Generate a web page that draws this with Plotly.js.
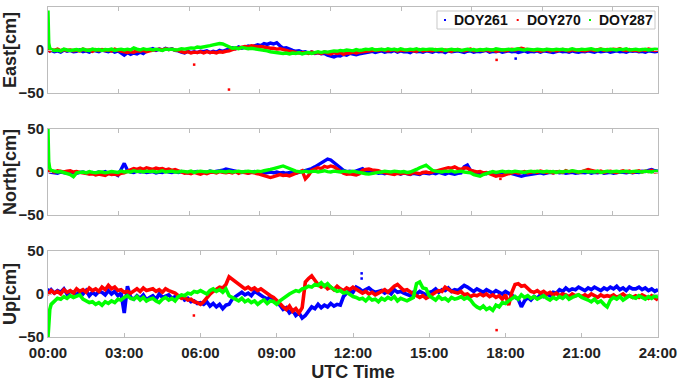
<!DOCTYPE html>
<html><head><meta charset="utf-8">
<script src="https://cdn.plot.ly/plotly-3.0.1.min.js"></script>
<style>html,body{margin:0;padding:0;background:#fff}#chart{width:680px;height:382px}</style>
</head><body><div id="chart"></div><script>
// epoch time in hours
const timeH = [0,0.03,0.07,
 0.125,0.25,0.375,0.5,0.625,0.75,0.875,1, 1.125,1.25,1.375,1.5,1.625,1.75,1.875,2,
 2.125,2.25,2.375,2.5,2.625,2.75,2.875,3, 3.125,3.25,3.375,3.5,3.625,3.75,3.875,4,
 4.125,4.25,4.375,4.5,4.625,4.75,4.875,5, 5.125,5.25,5.375,5.5,5.625,5.75,5.875,6,
 6.125,6.25,6.375,6.5,6.625,6.75,6.875,7, 7.125,7.25,7.375,7.5,7.625,7.75,7.875,8,
 8.125,8.25,8.375,8.5,8.625,8.75,8.875,9, 9.125,9.25,9.375,9.5,9.625,9.75,9.875,10,
 10.125,10.25,10.375,10.5,10.625,10.75,10.875,11, 11.125,11.25,11.375,11.5,11.625,11.75,11.875,12,
 12.125,12.25,12.375,12.5,12.625,12.75,12.875,13, 13.125,13.25,13.375,13.5,13.625,13.75,13.875,14,
 14.125,14.25,14.375,14.5,14.625,14.75,14.875,15, 15.125,15.25,15.375,15.5,15.625,15.75,15.875,16,
 16.125,16.25,16.375,16.5,16.625,16.75,16.875,17, 17.125,17.25,17.375,17.5,17.625,17.75,17.875,18,
 18.125,18.25,18.375,18.5,18.625,18.75,18.875,19, 19.125,19.25,19.375,19.5,19.625,19.75,19.875,20,
 20.125,20.25,20.375,20.5,20.625,20.75,20.875,21, 21.125,21.25,21.375,21.5,21.625,21.75,21.875,22,
 22.125,22.25,22.375,22.5,22.625,22.75,22.875,23, 23.125,23.25,23.375,23.5,23.625,23.75,23.875,24];

const seriesNames = ['DOY261','DOY270','DOY287'];
const seriesColors = ['#0000ff','#ff0000','#00ff00'];

// East [cm]
const eastDOY261 = [0,-1,-1,
 -0.5,-2,-1,-2.5,0,-1.5,-0.5,-2, -1.5,0,-2,-1,-2.5,-0.5,-1,-2,
 0,-1.5,-2,-0.5,-2.5,-1,-3,-6, -3,-5,-3.5,-4.5,-2.5,-4,-1,0.5,
 1.5,-0.5,1,0,2,0.5,1.5,-0.5, -1,-2.5,-3.5,-1.5,-3,-2,-3,-1.5,
 -2,-1,-3,-1.5,-2.5,-0.5,-1.5,0, 1,2.5,1.5,3.5,2,3,4.5,3.5,
 4.5,6,5,7.5,6.5,8,7,8.5, 5,2,2.5,0.5,-0.5,-1.5,-1,-2.5,
 -2,-3.5,-2.5,-4,-3,-4.5,-4,-6, -7,-8,-6.5,-7,-5,-6,-4,-5,
 -5.5,-4.5,-4,-3,-2.5,-1.5,-3,-2, -1,-2.5,-1.5,-2,-0.5,-2.5,-1,-2,
 -2,-3,-1,-2,-1.5,-2.5,-1,-1.5, -2.5,-1,-2,-1.5,-3,-1,-2,-1.5,
 -1,-2,-3,-1.5,-1,-2.5,-1.5,-2, -1.5,-0.5,-2.5,-1.5,-2,-1,-2.5,-2,
 -1,-2,-1.5,-3,-2,-1,-2.5,-1.5, -2,-1,-2.5,-1,-1.5,-2,-3,-2,
 -1,-2,-1.5,-2.5,-1,-2,-2.5,-1.5, -2,-1,-1.5,-2.5,-1,-2,-1.5,-1,
 -2.5,-1.5,-1,-2,-1.5,-2.5,-1,-1.5, -1,-2,-1.5,-2.5,-1,-1.5,-2,-1.5];
const eastDOY270 = [0,0,-1,
 0.5,-0.5,1,-1,0.5,-0.5,0,-1, 0,-1,1,-0.5,0,-1.5,0.5,-0.5,
 0.5,-0.5,0,-1,1,-0.5,-1,-2, -3,-2,-2.5,-1,-1.5,-0.5,-2,-1,
 -0.5,0.5,1,0,1.5,0.5,1,0, -0.5,-2,-3,-2,-3.5,-2.5,-3,-2,
 -3.5,-2,-3,-2.5,-3.5,-2,-2.5,-1.5, -1,0.5,1.5,2.5,3,4,3.5,5,
 4.5,3.5,4,3,2.5,2,2,1, 1.5,0,-0.5,-1.5,-2,-2.5,-3.5,-3,
 -3,-4,-2.5,-3.5,-3,-4,-2.5,-3.5, -4.5,-3,-4,-3,-5,-3.5,-3.5,-2.5,
 -3.5,-2.5,-2,-1.5,-1,-0.5,0,-0.5, 0.5,-0.5,-1,0,0.5,-1,0,-0.5,
 -0.5,0,-1,-1.5,0.5,-1,0,-0.5, -1,0.5,-0.5,-1,0,-0.5,-1.5,0,
 0.5,-0.5,-1,0,1,-1,-0.5,0, -0.5,0.5,-1,0,-1.5,-0.5,0,-1,
 0.5,1,0,1.5,2,1,0.5,0, -0.5,0,-1.5,-0.5,0.5,-1,0,-1,
 -0.5,0.5,0,-1,0.5,-0.5,0,-1, -1,0,0.5,-0.5,0,1,-0.5,0.5,
 0,1,0.5,1.5,0,-0.5,0.5,-0.5, 0,-1,0.5,-0.5,1,0,-0.5,0];
const eastDOY287 = [46,8,2,
 0.5,-0.5,0,-1,1,0,-0.5,0, 0.5,-0.5,1,0,-0.5,1,0,0.5,
 -0.5,0.5,0,1,-0.5,0.5,1,0, 1,0,2.5,1,0,1.5,0.5,1,
 0,1,0.5,-0.5,1,0.5,1,0, 0.5,1.5,1,2,2.5,2,3.5,3,
 3.5,4.5,5,6,6.5,7.5,7,5, 3,2,2.5,1.5,3,2,1.5,2,
 1.5,1,0.5,-0.5,-1,-2,-2.5,-3, -3,-4,-3.5,-4.5,-3.5,-4,-3,-4.5,
 -3.5,-3,-4,-2.5,-2,-3,-2,-2.5, -2,-1,-1.5,-0.5,-1,0,-0.5,-1,
 0.5,-0.5,0,1,0.5,1.5,0,0.5, 1,0,1.5,0.5,1,0,1.5,0.5,
 0,1,0.5,1.5,0,1,0.5,1, 1,0,0.5,1,-0.5,0.5,1,0,
 0.5,-0.5,0,1,0,0.5,-0.5,0.5, 0,1,0.5,0,1.5,0.5,0,0.5,
 1,0,0.5,1.5,0.5,0,1,0.5, 0,1,0.5,0,1,0.5,0,1,
 0.5,1,0,0.5,1.5,0.5,0,1, 0.5,1,1.5,0.5,0,1,0.5,0,
 1,0.5,0,1,0.5,1.5,0,0.5, 1,0,0.5,1,0,0.5,1,0.5];

// North [cm]
const northDOY261 = [1,0,0,
 -0.5,-1,-1.5,0,-0.5,-1.5,0,-1, -1.5,-0.5,0,-1,-2,-0.5,-1,0,
 -1,0.5,-1.5,0,-2,-4,3,10, 2,0,-0.5,1,0,0.5,-0.5,0,
 0.5,-1,0,-0.5,1,0,-0.5,0.5, -0.5,0.5,0,-1,-0.5,0,0.5,-0.5,
 0,-0.5,1,0,0.5,1.5,2,3.5, 2.5,1,0.5,0,-0.5,0.5,-1,0,
 0.5,-1,0,-1.5,-0.5,0,-1,0, -1,-0.5,-1.5,-1,0,-1.5,-0.5,0,
 1,2.5,4,6,8,10,12,15, 14,11,8,4,2,0.5,1,0,
 1,2,4,1,0,-1,0,-1.5, -1,-2,-0.5,-1.5,-2,-1,-2.5,-1,
 -2,-3,-1.5,-2.5,-3,-1,-1.5,-2, -1,-2,-0.5,-1.5,-2.5,-1,-2,-2.5,
 -1.5,-1,6,8,2,0,-1,-1.5, -1,-2,-0.5,-1.5,-2,-1,-0.5,-1.5,
 -1,-2,-3,-4,-5,-4,-3.5,-2.5, -2,-1.5,-1,-2,-1.5,-0.5,-1,0,
 -1,-0.5,-1.5,-1,-0.5,-1.5,-1,-0.5, -1,0,-1.5,-0.5,-1,0,-1.5,-1,
 -0.5,-1.5,-1,0,-0.5,-1,0,-1, 0,-0.5,1,0.5,2,3,1.5,1];
const northDOY270 = [2,1,0.5,
 1,0,1.5,0.5,0,1,1.5,0, 0.5,-0.5,-1,-2,-2.5,-2,-3.5,-2.5,
 -3.5,-4,-2,-3,-2.5,-3.5,-1.5,-1, 1,2.5,4,3,4.5,3,5,4,
 3,4.5,3.5,4,2.5,3.5,2,3, 1,0,-1.5,-1,-2,-0.5,-1.5,-2.5,
 -1,-2,-0.5,0,-1,0.5,-0.5,-1, 0,-1,0.5,-1.5,0,-0.5,-1.5,-0.5,
 -1,-2,-3,-4.5,-5,-6.5,-5.5,-4.5, -3,-4,-3.5,-4.5,-3,-2,0,1.5,
 -8,-4,2,3.5,5,4,6.5,5.5, 7,6,3,1,-1.5,-2.5,-2,-3,
 -3.5,-2,2,3,3.5,2.5,2,1.5, 0,-1,-2,-2.5,-3,-1.5,-2,-1,
 -1.5,-2.5,-0.5,-1.5,-2,-0.5,0,-1, 0,1,1.5,3,4,5,4.5,6,
 4,3,5,4.5,2,1,0,0.5, -1,-0.5,-2,-3.5,-5,-4,-4.5,-3,
 -2,-1,0,-1.5,-0.5,0.5,-1,0, 0.5,-0.5,1,0,-0.5,0.5,-1,0,
 0.5,-0.5,1.5,0,1,0.5,-0.5,0.5, 1.5,3,2,0.5,0,1,-0.5,0.5,
 1,0,-0.5,0.5,1.5,0,1,-0.5, 0.5,1.5,0,1,0.5,2,0,0.5];
const northDOY287 = [50,12,4,
 2,1,0,0.5,-0.5,-1,-3,-5.5, -1,-0.5,0,-1,0.5,-0.5,-1,0,
 0,-1,-0.5,0.5,0,-0.5,1,0, 0.5,0,1.5,0.5,1,0,1,0.5,
 1,0,0.5,1.5,0,0.5,1,0, 0,1,0.5,0,1,-0.5,0.5,1,
 0.5,0,1,0.5,0,1,0.5,0, 1,0,0.5,1,0,0.5,1,0.5,
 0,1,0.5,1.5,2,3,4,5, 6,7,5.5,4,2,1,0.5,0,
 1,0,0.5,1,0,0.5,1.5,0.5, 0,1,0.5,0,1,0.5,0,1,
 0,-1,-1.5,-2,-2.5,-1.5,-1,-0.5, 0,1,0.5,0,1,0.5,0,0.5,
 -0.5,0,1,3,5,7,8,5, 2,1,0.5,0,1,0.5,1.5,0,
 0.5,1,0,-0.5,-1,-3,-4,-5, -3,-1.5,0,0.5,-0.5,0,1,0,
 0.5,0,1,0.5,0,-0.5,0.5,1, 0,1,0.5,0,1,0,0.5,-0.5,
 0.5,0,1,0.5,1.5,1,0,0.5, 1,0,0.5,0,1,-0.5,0.5,1,
 0,0.5,1,0,0.5,1,0,0.5, 1,0.5,0,1,0.5,0,1,0.5];

// Up [cm]
const upDOY261 = [3,4,3,
 5,1,4,2,6,0,3,2, -1,3,0,4,-2,2,-1,3,
 2,-1,4,0,3,-2,1,-22, 9,-4,-6,-2,-5,-1,-7,-4,
 -2,-6,0,-4,-3,-1,-5,-3, -4,-2,-7,-5,-9,-8,-11,-10,
 -12,-9,-14,-11,-15,-12,-17,-13, -12,-6,-3,0,2,-1,1,-2,
 3,1,-2,-4,-6,-3,-7,-9, -13,-18,-16,-22,-19,-25,-22,-28,
 -25,-20,-15,-17,-12,-16,-13,-15, -11,-14,-12,-13,-3,1,4,2,
 8,6,3,5,7,4,2,3, 4,1,3,0,5,2,3,1,
 0,-2,2,0,3,1,-1,2, 3,6,2,5,4,7,3,5,
 4,7,10,8,5,3,6,4, 2,5,3,1,4,2,0,3,
 1,-1,-3,-6,-15,-8,-4,-7, -3,-5,-1,-3,0,-2,2,1,
 5,3,7,4,6,5,8,6, 4,7,5,8,6,4,7,5,
 8,6,9,5,7,4,8,6, 6,8,5,7,4,6,3,5];
const upDOY270 = [2,1,2,
 4,1,3,0,5,2,4,1, 6,3,5,2,7,4,6,3,
 8,5,10,6,8,4,5,2, 3,1,4,6,3,7,4,5,
 6,3,5,2,6,4,3,1, -2,-5,-4,-7,-6,-9,-10,-12,
 -9,-4,0,3,5,8,7,11, 20,17,14,11,9,6,8,5,
 7,4,6,3,1,-2,-4,-7, -11,-15,-18,-14,-20,-17,-22,-16,
 14,18,21,16,11,8,10,6, 8,5,9,6,4,7,5,8,
 6,4,1,3,0,2,-1,1, 3,5,2,6,9,11,7,4,
 5,2,0,-2,-4,-2,-5,-3, 0,2,4,3,8,5,3,2,
 1,3,-1,0,-3,-1,-2,0, -2,0,-3,-1,-4,-2,-6,-1,
 -13,2,11,12,9,10,6,3, 2,4,1,3,0,2,-1,1,
 -2,0,-1,-3,0,-2,-1,-3, -1,-3,0,-2,-4,-1,-3,-2,
 -3,-1,-4,-2,0,-3,-2,-4, -2,-4,-1,-3,-5,-2,-4,-7];
const upDOY287 = [-50,-30,-18,
 -12,-8,-5,-6,-3,-5,-2,-4, -3,-1,-6,-8,-10,-9,-12,-10,
 -13,-9,-11,-8,-10,-6,-7,-4, -2,-5,-6,-3,-7,-4,-8,-6,
 -5,-8,-10,-6,-4,-7,-5,-8, -3,-1,-2,1,0,3,2,4,
 2,0,4,6,3,5,2,6, -2,-4,-6,-8,-5,-9,-7,-10,
 -8,-12,-9,-7,-11,-8,-9,-12, -8,-5,-2,0,2,4,3,6,
 7,9,8,11,10,13,9,12, 8,6,3,4,1,2,-1,-3,
 -4,-6,-5,-8,-4,-7,-6,-9, -5,-7,-4,-6,-3,-8,-5,-6,
 -8,-6,-4,12,14,7,6,-2, -4,-7,-3,-6,-5,-8,-4,-6,
 -5,-3,-6,-4,-7,-12,-15,-17, -14,-18,-16,-19,-13,-15,-10,-11,
 -8,-5,-3,-6,-1,-4,-2,-5, -3,-6,-4,-2,-5,-7,-4,-6,
 -3,-5,-2,-6,-4,-3,-1,-4, -5,-7,-9,-6,-10,-8,-12,-15,
 -7,-4,-6,-3,-7,-5,-2,-4, -5,-2,-4,-6,-3,-5,-2,-4];

// isolated outlier epochs
const eastOutlierDOY261T = [18.4];   const eastOutlierDOY261V = [-10];
const eastOutlierDOY270T = [5.75, 7.12, 17.65]; const eastOutlierDOY270V = [-17, -46, -11.5];
const northOutlierDOY270T = [17.8]; const northOutlierDOY270V = [-8];
const upOutlierDOY261T = [12.34, 12.34]; const upOutlierDOY261V = [24, 18];
const upOutlierDOY270T = [5.74, 17.65]; const upOutlierDOY270V = [-25, -42];

const xTickVals = [0,3,6,9,12,15,18,21,24];
const xTickText = ['00:00','03:00','06:00','09:00','12:00','15:00','18:00','21:00','24:00'];
const upperTickVals = [0,2.7778,5.5556,8.3333,11.1111,13.8889,16.6667,19.4444,22.2222];
const yTickVals = [-50,0,50];
const yTitles = ['East[cm]','North[cm]','Up[cm]'];

const FONT = 'Liberation Sans, Arial, Helvetica, sans-serif';
const boxColor = '#bcbcbc';

const panels = [
  {x:'x', y:'y', w:3.4, data:[eastDOY261,eastDOY270,eastDOY287],
   out:[[eastOutlierDOY261T,eastOutlierDOY261V],[eastOutlierDOY270T,eastOutlierDOY270V],null]},
  {x:'x2', y:'y2', w:3.4, data:[northDOY261,northDOY270,northDOY287],
   out:[null,[northOutlierDOY270T,northOutlierDOY270V],null]},
  {x:'x3', y:'y3', w:3.6, data:[upDOY261,upDOY270,upDOY287],
   out:[[upOutlierDOY261T,upOutlierDOY261V],[upOutlierDOY270T,upOutlierDOY270V],null]}
];

const traces = [];
panels.forEach(p => {
  p.data.forEach((vals, i) => {
    traces.push({type:'scatter', mode:'lines', x:timeH, y:vals, xaxis:p.x, yaxis:p.y,
      name:seriesNames[i], showlegend:false, hoverinfo:'skip',
      line:{color:seriesColors[i], width:p.w}});
    if (p.out[i]) traces.push({type:'scatter', mode:'markers', x:p.out[i][0], y:p.out[i][1],
      xaxis:p.x, yaxis:p.y, showlegend:false, hoverinfo:'skip',
      marker:{color:seriesColors[i], size:2.5, symbol:'square'}});
  });
});

function xAxis(anchor, labelled) {
  const a = {anchor:anchor, range:[0,24], showline:true, mirror:'ticks', linecolor:boxColor, linewidth:1,
    ticks:'inside', ticklen:4, tickcolor:boxColor, showgrid:false, zeroline:false, fixedrange:true,
    tickmode:'array', tickvals: labelled ? xTickVals : upperTickVals,
    showticklabels: labelled, tickfont:{family:FONT, size:15, color:'#222', weight:'bold'}};
  if (labelled) { a.ticktext = xTickText; a.ticklabelstandoff = 2;
    a.title = {text:'UTC Time', font:{family:FONT, size:18, color:'#222', weight:'bold'}, standoff:6}; }
  return a;
}
function yAxis(anchor, dom, title) {
  return {anchor:anchor, domain:dom, range:[-50,50], showline:true, mirror:'ticks', linecolor:boxColor,
    linewidth:1, ticks:'inside', ticklen:4, tickcolor:boxColor, showgrid:false, zeroline:false,
    fixedrange:true, tickmode:'array', tickvals:yTickVals,
    tickfont:{family:FONT, size:15, color:'#222', weight:'bold'},
    title:{text:title, font:{family:FONT, size:18, color:'#222', weight:'bold'}, standoff:4}};
}

// legend (framed row of entries)
const legX = [0.6508, 0.7700, 0.8885];
const legTX = [0.6623, 0.7820, 0.9008];
const shapes = [{type:'rect', xref:'paper', yref:'paper', x0:0.6377, x1:0.9951, y0:0.9333, y1:0.9879,
  line:{color:'#c8c8c8', width:1}, fillcolor:'#ffffff', layer:'above'}];
const annotations = [];
seriesNames.forEach((n, i) => {
  shapes.push({type:'rect', xref:'paper', yref:'paper', xsizemode:'pixel', ysizemode:'pixel',
    xanchor:legX[i], yanchor:0.9606, x0:-1, x1:1, y0:-1, y1:1, fillcolor:seriesColors[i],
    line:{width:0}, layer:'above'});
  annotations.push({xref:'paper', yref:'paper', x:legTX[i], y:0.9606, xanchor:'left', yanchor:'middle',
    text:n, showarrow:false, font:{family:FONT, size:14, color:'#111', weight:'bold'}});
});

const layout = {
  width:680, height:382, margin:{l:48, r:22, t:7, b:45},
  paper_bgcolor:'#ffffff', plot_bgcolor:'#ffffff', showlegend:false,
  font:{family:FONT},
  xaxis: xAxis('y', false), xaxis2: xAxis('y2', false), xaxis3: xAxis('y3', true),
  yaxis: yAxis('x', [0.7394,1], yTitles[0]),
  yaxis2: yAxis('x2', [0.3697,0.6303], yTitles[1]),
  yaxis3: yAxis('x3', [0,0.2606], yTitles[2]),
  shapes: shapes, annotations: annotations
};
Plotly.newPlot('chart', traces, layout, {staticPlot:true, displayModeBar:false});
</script></body></html>
